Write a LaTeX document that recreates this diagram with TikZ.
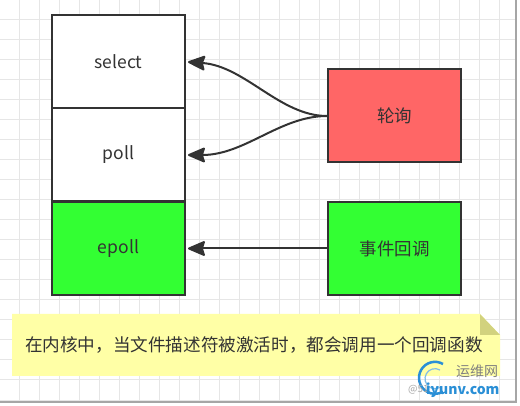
\documentclass[tikz,border=0pt]{standalone}
\usepackage{fontspec}
\setmainfont{Noto Sans CJK SC}
\usetikzlibrary{arrows.meta}
\definecolor{gridc}{HTML}{E6E6E6}
\definecolor{edge}{HTML}{333333}
\definecolor{redf}{HTML}{FF6666}
\definecolor{greenf}{HTML}{33FF33}
\definecolor{notef}{HTML}{FFFFA6}
\definecolor{foldf}{HTML}{D2D27E}
\definecolor{wmblue}{HTML}{2A8FD6}
\tikzset{
  box/.style={draw=edge, line width=2pt, minimum width=133pt, minimum height=93pt, inner sep=0pt, font=\fontsize{17.5}{19}\selectfont, text=edge},
  conn/.style={draw=edge, line width=2pt, -{Stealth[length=19pt,width=16pt,inset=2.5pt,round]}},
}
\begin{document}
\begin{tikzpicture}[x=1pt,y=-1pt]
\useasboundingbox (0,0) rectangle (520,406);
\fill[white] (0,0) rectangle (520,406);
% grid
\begin{scope}
\clip (0,0) rectangle (515,401);
\foreach \i in {0,...,26} \draw[gridc, line width=1pt] (19+20*\i,0) -- (19+20*\i,406);
\foreach \j in {1,...,20} \draw[gridc, line width=1pt] (0,20*\j) -- (520,20*\j);
\end{scope}
% frame shadow
\draw[gray!70, line width=1.5pt] (516,0) -- (516,402) -- (0,402);
% boxes
\node[box, fill=white] (sel) at (118.5,62) {select};
\node[box, fill=white] (pol) at (118.5,155) {poll};
\node[box, fill=greenf] (epl) at (118.5,248.5) {epoll};
\node[box, fill=redf] (lx) at (394.5,116) {轮询};
\node[box, fill=greenf] (sj) at (394.5,248.5) {事件回调};
% connectors
\coordinate (lxw) at (lx.west);
\draw[conn] (lxw) .. controls (280,116) and (245,66) .. ([xshift=2pt]sel.east);
\draw[conn] (lxw) .. controls (280,116) and (245,155) .. ([xshift=2pt]pol.east);
\draw[conn] (sj.west) -- ([xshift=2pt]epl.east);
% note
\fill[notef] (12,314) -- (480,314) -- (500,335) -- (500,376) -- (12,376) -- cycle;
\fill[foldf] (480,314) -- (500,335) -- (480,335) -- cycle;
\node[font=\fontsize{17.6}{19}\selectfont, text=edge, anchor=west, inner sep=0pt] (note) at (25,345) {在内核中，当文件描述符被激活时，都会调用一个回调函数};
% watermark
\draw[wmblue, line width=2.5pt] (443,364) arc (-60:-300:16);
\draw[wmblue!60, line width=1.2pt] (440,370) arc (-60:-300:10);
\node[font=\fontsize{14}{15}\selectfont, text=gray, anchor=west, inner sep=0pt] (wm1) at (456,371) {运维网};
\node[font=\fontsize{10}{11}\selectfont, text=gray!70, anchor=west, inner sep=0pt] (wm2) at (408,390) {@51};
\node[font=\bfseries\fontsize{14}{15}\selectfont, text=wmblue, anchor=west, inner sep=0pt] (wm3) at (426,390) {iyunv.com};
\end{tikzpicture}
\end{document}
